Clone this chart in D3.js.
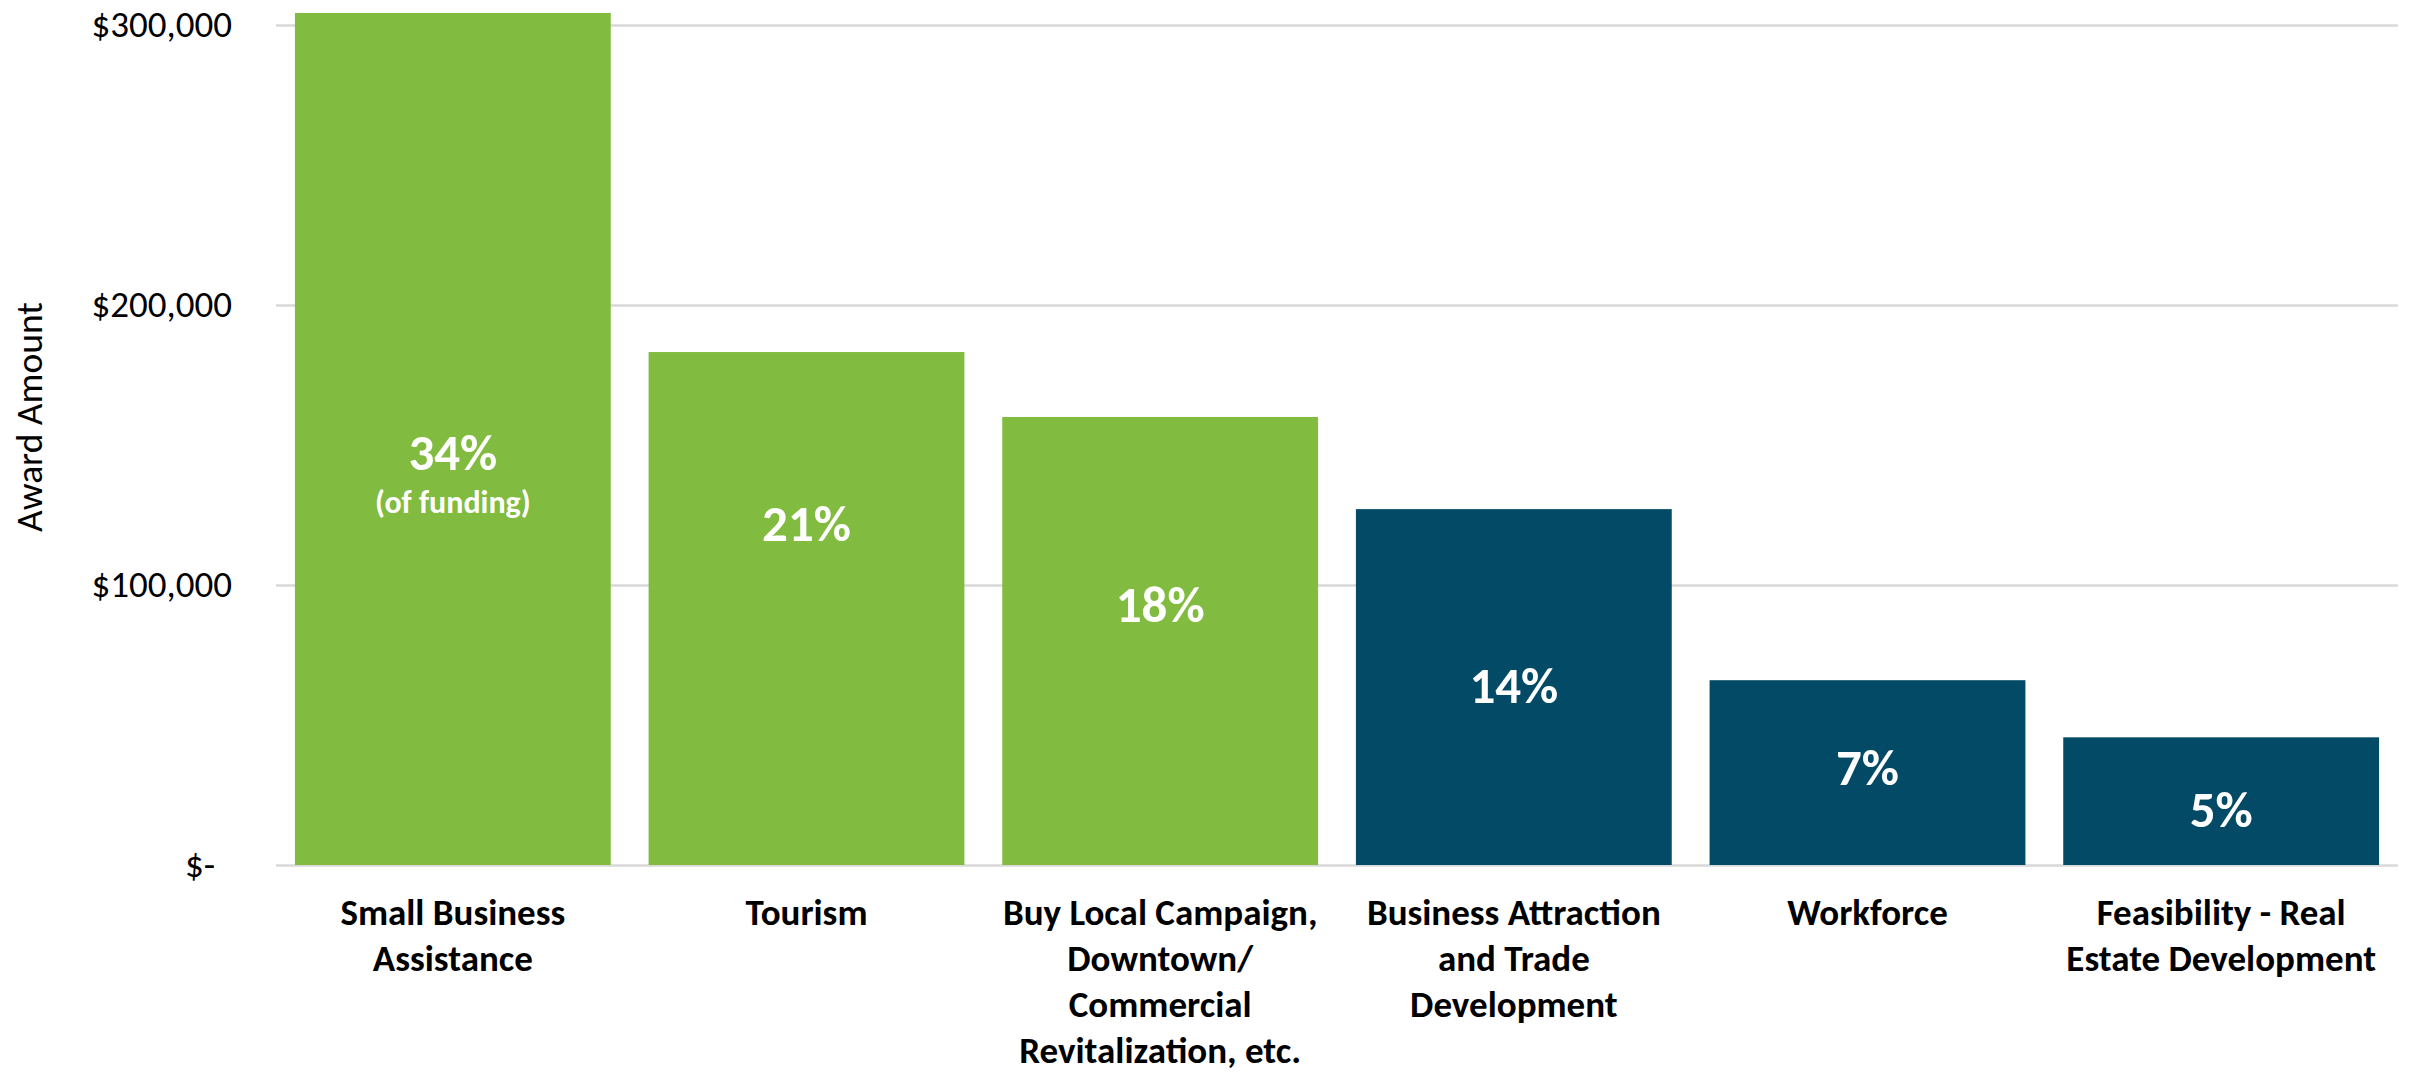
<!DOCTYPE html>
<html>
<head>
<meta charset="utf-8">
<script src="https://cdn.jsdelivr.net/npm/d3@7"></script>
<style>
  body { margin: 0; background: #fff; }
  text { font-family: Carlito, Calibri, Lato, sans-serif; }
</style>
</head>
<body>
<div id="graph"></div>
<script>
var w = 2410, h = 1072

var categories = ['Small Business Assistance', 'Tourism', 'Buy Local Campaign, Downtown/ Commercial Revitalization, etc.',
  'Business Attraction and Trade Development', 'Workforce', 'Feasibility - Real Estate Development']
var categoryLines = [
  ['Small Business', 'Assistance'],
  ['Tourism'],
  ['Buy Local Campaign,', 'Downtown/', 'Commercial', 'Revitalization, etc.'],
  ['Business Attraction', 'and Trade', 'Development'],
  ['Workforce'],
  ['Feasibility - Real', 'Estate Development']
]
var amounts = [304300, 183200, 160000, 127100, 66000, 45600]
var shares = ['34%', '21%', '18%', '14%', '7%', '5%']
// where the share labels sit, in dollars (they were nudged by hand in the original)
var shareAt = [141100, 115700, 86800, 57900, 28600, 13600]
var groups = ['green', 'green', 'green', 'blue', 'blue', 'blue']
var yTicks = [0, 100000, 200000, 300000]

var colors = {green: '#81bb3f', blue: '#024a65'}

var m = {top: 25, right: 12, bottom: 207, left: 276}

var svg = d3.select('#graph').append('svg')
    .attr('width', w).attr('height', h)

var x = d3.scaleBand()
    .domain(d3.range(categories.length))
    .range([m.left, w - m.right])
    .paddingInner(0.107)
    .paddingOuter(0.0535)

var y = d3.scaleLinear()
    .domain([0, 300000])
    .range([h - m.bottom, m.top])

var fmt = d3.format('$,')

// gridlines + tick labels
var yAxis = svg.append('g')
    .attr('transform', 'translate(' + m.left + ',0)')
    .call(d3.axisLeft(y)
      .tickValues(yTicks)
      .tickSize(-(w - m.right - m.left))
      .tickPadding(44)
      .tickFormat(function(d){ return d == 0 ? '$-' : fmt(d) }))

yAxis.select('.domain').remove()
yAxis.selectAll('line').attr('stroke', '#d9d9d9').attr('stroke-width', 2.5)
yAxis.selectAll('text')
    .style('font-size', '37px')
    .attr('fill', '#000')
    .attr('dx', function(d){ return d == 0 ? -17 : 0 })

svg.append('text')
    .attr('transform', 'translate(42,417) rotate(-90)')
    .attr('text-anchor', 'middle')
    .style('font-size', '37.5px')
    .text('Award Amount')

svg.selectAll('rect.bar').data(amounts)
  .enter().append('rect')
    .attr('class', 'bar')
    .attr('x', function(d, i){ return x(i) })
    .attr('width', x.bandwidth())
    .attr('y', function(d){ return y(d) })
    .attr('height', function(d){ return y(0) - y(d) })
    .attr('fill', function(d, i){ return colors[groups[i]] })

svg.selectAll('text.share').data(shares)
  .enter().append('text')
    .attr('class', 'share')
    .attr('x', function(d, i){ return x(i) + x.bandwidth() / 2 })
    .attr('y', function(d, i){ return y(shareAt[i]) })
    .attr('text-anchor', 'middle')
    .attr('fill', '#fff')
    .style('font-size', '51px')
    .style('font-weight', 'bold')
    .text(function(d){ return d })

svg.append('text')
    .attr('x', x(0) + x.bandwidth() / 2)
    .attr('y', y(shareAt[0]) + 43)
    .attr('text-anchor', 'middle')
    .attr('fill', '#fff')
    .style('font-size', '32px')
    .style('font-weight', 'bold')
    .text('(of funding)')

var labels = svg.selectAll('text.cat').data(categoryLines)
  .enter().append('text')
    .attr('class', 'cat')
    .attr('text-anchor', 'middle')
    .attr('transform', function(d, i){ return 'translate(' + (x(i) + x.bandwidth() / 2) + ',' + (y(0) + 60) + ')' })
    .style('font-size', '37px')
    .style('font-weight', 'bold')

labels.selectAll('tspan').data(function(d){ return d })
  .enter().append('tspan')
    .attr('x', 0)
    .attr('y', function(d, i){ return i * 46 })
    .text(function(d){ return d })
</script>
</body>
</html>
